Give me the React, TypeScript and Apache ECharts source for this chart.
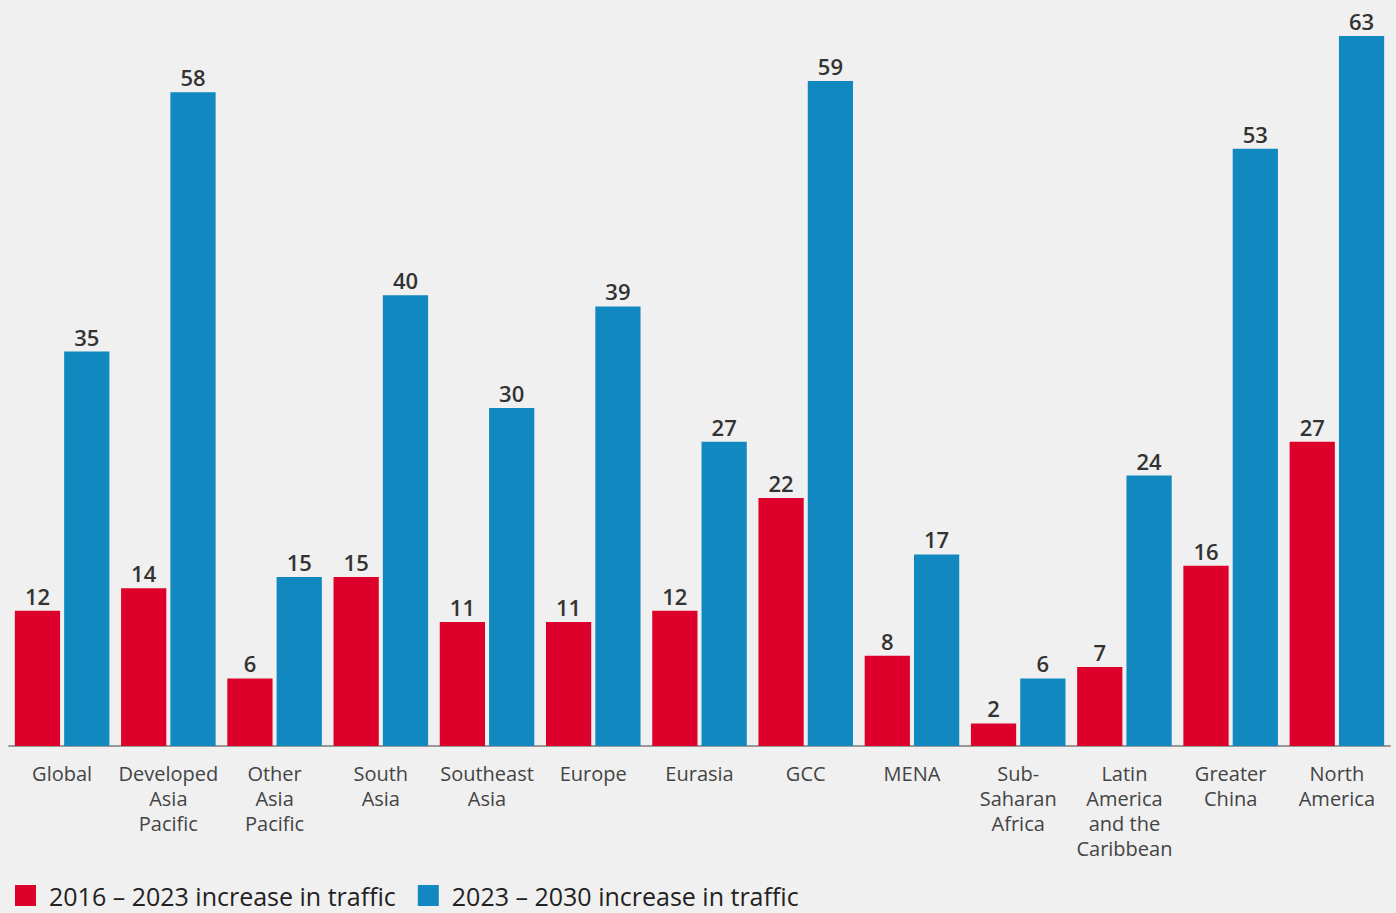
import React, { useEffect, useRef } from "react";
import * as echarts from "echarts";

const categories = [
  "Global",
  "Developed\nAsia\nPacific",
  "Other\nAsia\nPacific",
  "South\nAsia",
  "Southeast\nAsia",
  "Europe",
  "Eurasia",
  "GCC",
  "MENA",
  "Sub-\nSaharan\nAfrica",
  "Latin\nAmerica\nand the\nCaribbean",
  "Greater\nChina",
  "North\nAmerica",
];
const series2016 = [12, 14, 6, 15, 11, 11, 12, 22, 8, 2, 7, 16, 27];
const series2023 = [35, 58, 15, 40, 30, 39, 27, 59, 17, 6, 24, 53, 63];
const seriesNames = ["2016 – 2023 increase in traffic", "2023 – 2030 increase in traffic"];

export default function App() {
  const ref = useRef<HTMLDivElement>(null);
  useEffect(() => {
    const chart = echarts.init(ref.current!, null, { renderer: "svg" });
    const font = "'Open Sans', sans-serif";
    const label = {
      show: true,
      position: "top",
      distance: 4,
      color: "#333",
      fontSize: 22,
      fontWeight: 600,
      fontFamily: font,
    };
    chart.setOption({
      animation: false,
      backgroundColor: "#f0f0f0",
      textStyle: { fontFamily: font },
      legend: {
        left: 10,
        bottom: 0,
        itemWidth: 21,
        itemHeight: 21,
        itemGap: 22,
        icon: "rect",
        textStyle: {
          fontSize: 25,
          color: "#222",
          fontFamily: font,
          padding: [0, 0, 0, 8],
        },
        data: seriesNames,
      },
      grid: { left: 9, right: 6, top: 36, bottom: 167 },
      xAxis: {
        type: "category",
        data: categories,
        axisLine: { lineStyle: { color: "#999", width: 2 } },
        axisTick: { show: false },
        axisLabel: {
          interval: 0,
          margin: 15,
          color: "#444",
          fontSize: 20,
          lineHeight: 25,
          fontFamily: font,
        },
      },
      yAxis: { type: "value", min: 0, max: 63, show: false, splitLine: { show: false } },
      series: [
        {
          name: seriesNames[0],
          type: "bar",
          data: series2016,
          itemStyle: { color: "#dc002b" },
          barGap: "9%",
          barCategoryGap: "11%",
          label,
        },
        {
          name: seriesNames[1],
          type: "bar",
          data: series2023,
          itemStyle: { color: "#1188bf" },
          label,
        },
      ],
    });
    return () => chart.dispose();
  }, []);
  return (
    <div
      ref={ref}
      style={{ position: "fixed", left: 0, top: 0, width: 1396, height: 913 }}
    />
  );
}
